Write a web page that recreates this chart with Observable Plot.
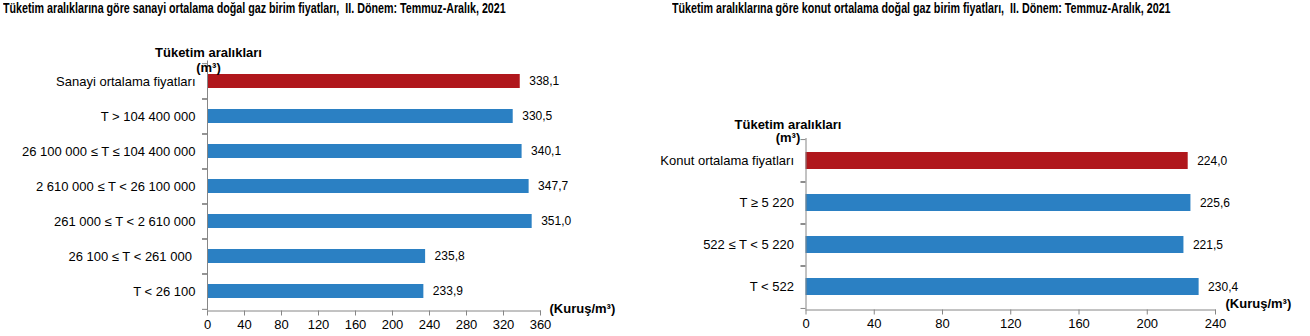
<!DOCTYPE html>
<html>
<head>
<meta charset="utf-8">
<script src="https://cdn.jsdelivr.net/npm/d3@7"></script>
<script src="https://cdn.jsdelivr.net/npm/@observablehq/plot@0.6"></script>
<style>
  html, body { margin: 0; padding: 0; background: #fff; }
  #wrap { position: relative; width: 1310px; height: 336px; overflow: hidden; }
  .panel { position: absolute; top: 0; width: 655px; height: 336px; }
  .title { position: absolute; top: 1px; white-space: nowrap; font-family: "Liberation Sans", Arial, sans-serif; font-weight: bold; font-size: 14px; line-height: 15px; color: #000; transform: scaleX(0.765); transform-origin: 0 0; }
  .panel svg { position: absolute; top: 20px; left: 0; }
</style>
</head>
<body>
<div id="wrap">
  <div class="panel" id="left"><div class="title" style="left:3px">Tüketim aralıklarına göre sanayi ortalama doğal gaz birim fiyatları,&nbsp; II. Dönem: Temmuz-Aralık, 2021</div></div>
  <div class="panel" id="right" style="left:655px"><div class="title" style="left:17px">Tüketim aralıklarına göre konut ortalama doğal gaz birim fiyatları,&nbsp; II. Dönem: Temmuz-Aralık, 2021</div></div>
</div>
<script>
const leftCategories = ["Sanayi ortalama fiyatları", "T > 104 400 000", "26 100 000 ≤ T ≤ 104 400 000", "2 610 000 ≤ T < 26 100 000", "261 000 ≤ T < 2 610 000", "26 100 ≤ T < 261 000\u00a0", "T < 26 100"];
const leftValues = [338.1, 330.5, 340.1, 347.7, 351.0, 235.8, 233.9];
const leftTicks = [0, 40, 80, 120, 160, 200, 240, 280, 320, 360];

const rightCategories = ["Konut ortalama fiyatları", "T ≥ 5 220", "522 ≤ T < 5 220", "T < 522"];
const rightValues = [224.0, 225.6, 221.5, 230.4];
const rightTicks = [0, 40, 80, 120, 160, 200, 240];

const headerText = "Tüketim aralıkları\n(m³)";
const unitText = "(Kuruş/m³)";

const RED = "#b0171c";
const BLUE = "#2b80c3";
const AXIS = "#868686";
const fmt = v => d3.format(".1f")(v).replace(".", ",");

function makeChart(o) {
  const data = o.cats.map((c, i) => ({cat: c, value: o.values[i], total: i === 0}));
  const height = 316;
  const innerH = height - o.marginTop - o.marginBottom;
  const step = innerH / o.cats.length;
  return Plot.plot({
    width: 655,
    height,
    marginLeft: o.marginLeft,
    marginRight: o.marginRight,
    marginTop: o.marginTop,
    marginBottom: o.marginBottom,
    style: {fontFamily: "'Liberation Sans', Arial, sans-serif", fontSize: "13px", color: "#000", background: "transparent", overflow: "visible"},
    x: {domain: [0, o.max], ticks: o.ticks},
    y: {domain: o.cats, paddingInner: 0.6, paddingOuter: 0.3},
    marks: [
      Plot.barX(data, {x: "value", y: "cat", fill: d => d.total ? RED : BLUE}),
      Plot.text(data, {x: "value", y: "cat", text: d => fmt(d.value), dx: 9, textAnchor: "start", fontSize: 12}),
      Plot.ruleX([0], {stroke: AXIS}),
      Plot.frame({anchor: "bottom", stroke: AXIS}),
      Plot.axisY({tickSize: 5, dy: -step / 2, text: null, label: null, stroke: AXIS}),
      Plot.axisY({tickSize: 5, dy: step / 2, text: null, label: null, stroke: AXIS}),
      Plot.axisY({tickSize: 0, tickPadding: 12, fontSize: 13, label: null}),
      Plot.axisX({ticks: o.ticks, tickSize: 5, text: null, label: null, stroke: AXIS}),
      Plot.axisX({ticks: o.ticks, tickSize: 0, tickPadding: 9, fontSize: 13, label: null, tickFormat: d => String(d)}),
      Plot.text([headerText], {frameAnchor: "top-left", dx: o.headerDx, dy: o.headerDy, textAnchor: "middle", lineAnchor: "middle", lineHeight: o.headerLH, fontWeight: "bold", fontSize: 13}),
      Plot.text([unitText], {frameAnchor: "bottom-right", dx: o.unitDx, dy: o.unitDy, textAnchor: "start", lineAnchor: "middle", fontWeight: "bold", fontSize: 13})
    ]
  });
}

document.getElementById("left").appendChild(makeChart({
  cats: leftCategories, values: leftValues, ticks: leftTicks, max: 360,
  marginLeft: 207, marginRight: 115, marginTop: 40.5, marginBottom: 25.5,
  headerDx: 1, headerDy: -1, headerLH: 1.12, unitDx: 9, unitDy: -2.5
}));
document.getElementById("right").appendChild(makeChart({
  cats: rightCategories, values: rightValues, ticks: rightTicks, max: 240,
  marginLeft: 150.5, marginRight: 95, marginTop: 118, marginBottom: 26.5,
  headerDx: -18, headerDy: -7, headerLH: 1.0, unitDx: 10, unitDy: -6.5
}));
</script>
</body>
</html>
